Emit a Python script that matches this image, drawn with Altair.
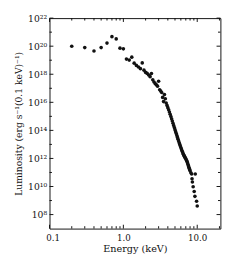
import altair as alt
import pandas as pd

# ---- data ----
energy = [0.2, 0.3, 0.4, 0.5, 0.6, 0.7, 0.8, 0.9, 1.0,
          1.1, 1.2, 1.3, 1.4, 1.5, 1.6, 1.7, 1.8, 1.9, 2.0,
          2.1, 2.2, 2.3, 2.4, 2.5, 2.6, 2.7, 2.8, 2.9, 3.0,
          3.1, 3.2, 3.3, 3.4, 3.5, 3.6, 3.7, 3.8, 3.9, 4.0,
          4.1, 4.2, 4.3, 4.4, 4.5, 4.6, 4.7, 4.8, 4.9, 5.0,
          5.1, 5.2, 5.3, 5.4, 5.5, 5.6, 5.7, 5.8, 5.9, 6.0,
          6.1, 6.2, 6.3, 6.4, 6.5, 6.6, 6.7, 6.8, 6.9, 7.0,
          7.1, 7.2, 7.3, 7.4, 7.5, 7.6, 7.7, 7.8, 7.9, 8.0,
          8.2, 8.4, 8.5, 8.6, 8.8, 9.1, 9.3, 9.4, 9.8, 10.0]
log_lum = [20.00, 19.90, 19.66, 19.90, 20.22, 20.68, 20.52, 19.86, 19.81,
           19.08, 19.01, 19.22, 18.79, 18.63, 18.52, 18.40, 18.81, 18.29, 18.13,
           18.06, 17.95, 17.83, 18.05, 17.60, 17.45, 17.33, 17.25, 17.15, 17.50,
           16.90, 16.80, 16.70, 16.35, 16.05, 16.55, 16.25, 15.95, 15.78, 15.62,
           15.47, 15.31, 15.15, 14.99, 14.83, 14.67, 14.51, 14.35, 14.20, 14.05,
           13.91, 13.77, 13.63, 13.50, 13.37, 13.24, 13.12, 13.00, 12.89, 12.78,
           12.67, 12.57, 12.47, 12.38, 12.29, 12.22, 12.15, 12.09, 12.03, 11.97,
           11.90, 11.83, 11.76, 11.67, 11.57, 11.47, 11.38, 11.28, 11.20, 11.12,
           10.98, 10.89, 10.55, 10.32, 9.98, 9.64, 9.30, 10.89, 8.95, 8.61]

x_major_ticks = [0.1, 1.0, 10.0]
x_minor_ticks = [0.2, 0.3, 0.4, 0.5, 0.6, 0.7, 0.8, 0.9,
                 2, 3, 4, 5, 6, 7, 8, 9, 20]
y_major_ticks = [1e8, 1e10, 1e12, 1e14, 1e16, 1e18, 1e20, 1e22]
y_minor_ticks = [1e9, 1e11, 1e13, 1e15, 1e17, 1e19, 1e21]

df = pd.DataFrame({"energy": energy, "lum": [10 ** v for v in log_lum]})
dfxM = pd.DataFrame({"energy": x_major_ticks})
dfxm = pd.DataFrame({"energy": x_minor_ticks})
dfyM = pd.DataFrame({"lum": y_major_ticks})
dfym = pd.DataFrame({"lum": y_minor_ticks})

W, H = 177, 218
FONT = "DejaVu Serif"
INK = "#111111"

xscale = alt.Scale(type="log", domain=[0.1, 20.6], nice=False)
yscale = alt.Scale(type="log", domain=[1e7, 1e22], nice=False)

SUP = "⁰¹²³⁴⁵⁶⁷⁸⁹"
e = "round(log(datum.value)/LN10)"
ylabel_expr = (
    f"'10' + (floor({e}/10) > 0 ? substring('{SUP}', floor({e}/10), floor({e}/10)+1) : '')"
    f" + substring('{SUP}', {e} % 10, {e} % 10 + 1)"
)

xenc = alt.X("energy:Q", scale=xscale,
             axis=alt.Axis(values=x_major_ticks, format=".1f", ticks=False,
                           domain=False, grid=False, labelFlush=True,
                           labelFlushOffset=4, labelPadding=5,
                           title="Energy (keV)", titleFontSize=10,
                           titlePadding=2))
yenc = alt.Y("lum:Q", scale=yscale,
             axis=alt.Axis(values=y_major_ticks, labelExpr=ylabel_expr,
                           ticks=False, domain=False, grid=False,
                           labelPadding=3, labelFontSize=9.5,
                           title="Luminosity (erg s⁻¹(0.1 keV)⁻¹)",
                           titleFontSize=9.5, titlePadding=4))

pts = alt.Chart(df).mark_circle(size=14, color=INK, opacity=1).encode(x=xenc, y=yenc)

def xticks(d, length):
    bot = alt.Chart(d).mark_rule(color=INK, strokeWidth=1).encode(
        x=xenc, y=alt.value(H), y2=alt.value(H - length))
    top = alt.Chart(d).mark_rule(color=INK, strokeWidth=1).encode(
        x=xenc, y=alt.value(0), y2=alt.value(length))
    return [bot, top]

def yticks(d, length):
    left = alt.Chart(d).mark_rule(color=INK, strokeWidth=1).encode(
        y=yenc, x=alt.value(0), x2=alt.value(length))
    right = alt.Chart(d).mark_rule(color=INK, strokeWidth=1).encode(
        y=yenc, x=alt.value(W), x2=alt.value(W - length))
    return [left, right]

layers = [pts] + xticks(dfxM, 4) + xticks(dfxm, 2.5) + yticks(dfyM, 4) + yticks(dfym, 2.5)

chart = alt.layer(*layers).properties(
    width=W, height=H,
    autosize=alt.AutoSizeParams(type="none"),
    padding={"left": 43, "top": 6, "right": 12, "bottom": 27},
    background="white",
).configure_view(
    stroke=INK, strokeWidth=1
).configure_axis(
    labelFont=FONT, titleFont=FONT, labelFontSize=9, titleFontSize=9,
    labelColor=INK, titleColor=INK, titleFontWeight="normal"
)

chart.save("out.html", embed_options={"renderer": "svg", "actions": False})
